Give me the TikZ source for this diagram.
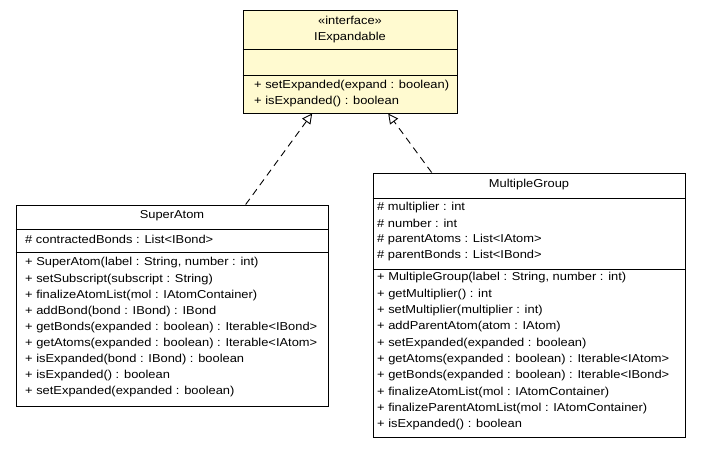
\documentclass[tikz,border=0pt]{standalone}
\usepackage{fontspec}
\setmainfont{Liberation Sans}[FakeStretch=1.12]
\usetikzlibrary{arrows.meta,positioning}
\definecolor{ifacefill}{RGB}{255,250,208}
\tikzset{
  x=1pt, y=-1pt, >={Triangle[open, length=10pt, width=10pt]},
  every node/.style={font=\fontsize{11.5}{14}\selectfont},
  umlclass/.style={draw, line width=1pt, fill=white, inner sep=0pt},
  member/.style={anchor=west, inner sep=0pt},
  title/.style={inner sep=0pt},
  realizes/.style={->, dash pattern=on 7pt off 5pt, line width=0.9pt}
  }

\begin{document}
\begin{tikzpicture}
  \useasboundingbox[fill=white] (0,0) rectangle (701,448);

  % the interface on top
  \node [umlclass, fill=ifacefill, minimum width=214pt, minimum height=103pt] at (350,61.5) (iexp) {};
  \draw [line width=1pt] (iexp.west |- 0,49) -- (iexp.east |- 0,49);
  \draw [line width=1pt] (iexp.west |- 0,75) -- (iexp.east |- 0,75);
  \node [title] at (350,20) {«interface»};
  \node [title] at (350,38) {IExpandable};
  \node [member] at (254,86) {+ setExpanded(expand : boolean)};
  \node [member] at (254,102) {+ isExpanded() : boolean};

  % SuperAtom
  \node [umlclass, minimum width=312pt, minimum height=201pt] at (172,305.5) (superatom) {};
  \draw [line width=1pt] (superatom.west |- 0,229) -- (superatom.east |- 0,229);
  \draw [line width=1pt] (superatom.west |- 0,252) -- (superatom.east |- 0,252);
  \node [title] at (172,216) {SuperAtom};
  \node [member] at (25,239) {\# contractedBonds : List<IBond>};
  \foreach \m [count=\i from 0] in {
      {+ SuperAtom(label : String, number : int)},
      {+ setSubscript(subscript : String)},
      {+ finalizeAtomList(mol : IAtomContainer)},
      {+ addBond(bond : IBond) : IBond},
      {+ getBonds(expanded : boolean) : Iterable<IBond>},
      {+ getAtoms(expanded : boolean) : Iterable<IAtom>},
      {+ isExpanded(bond : IBond) : boolean},
      {+ isExpanded() : boolean},
      {+ setExpanded(expanded : boolean)}}
    \node [member] at (25,263+16.1*\i) {\m};

  % MultipleGroup
  \node [umlclass, minimum width=312pt, minimum height=264pt] at (529,305) (multigroup) {};
  \draw [line width=1pt] (multigroup.west |- 0,198) -- (multigroup.east |- 0,198);
  \draw [line width=1pt] (multigroup.west |- 0,269) -- (multigroup.east |- 0,269);
  \node [title] at (529,185) {MultipleGroup};
  \foreach \m [count=\i from 0] in {
      {\# multiplier : int},
      {\# number : int},
      {\# parentAtoms : List<IAtom>},
      {\# parentBonds : List<IBond>}}
    \node [member] at (377,208+15.7*\i) {\m};
  \foreach \m [count=\i from 0] in {
      {+ MultipleGroup(label : String, number : int)},
      {+ getMultiplier() : int},
      {+ setMultiplier(multiplier : int)},
      {+ addParentAtom(atom : IAtom)},
      {+ setExpanded(expanded : boolean)},
      {+ getAtoms(expanded : boolean) : Iterable<IAtom>},
      {+ getBonds(expanded : boolean) : Iterable<IBond>},
      {+ finalizeAtomList(mol : IAtomContainer)},
      {+ finalizeParentAtomList(mol : IAtomContainer)},
      {+ isExpanded() : boolean}}
    \node [member] at (377,278+16.3*\i) {\m};

  % realizations
  \draw [realizes] (superatom) -- (iexp);
  \draw [realizes] (multigroup) -- (iexp);
\end{tikzpicture}
\end{document}
